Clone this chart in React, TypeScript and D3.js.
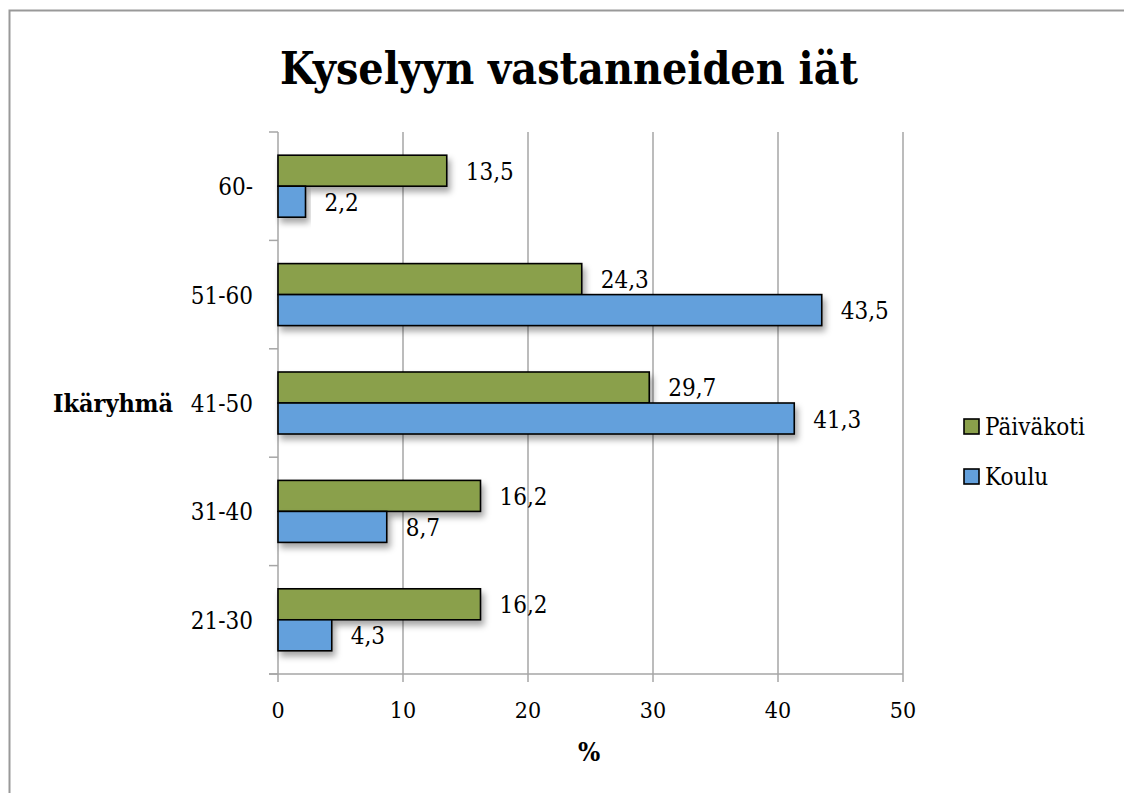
import React from "react";
import * as d3 from "d3";

const categories = ["60-", "51-60", "41-50", "31-40", "21-30"];
const seriesNames = ["Päiväkoti", "Koulu"];
const paivakoti = [13.5, 24.3, 29.7, 16.2, 16.2];
const koulu = [2.2, 43.5, 41.3, 8.7, 4.3];
const xTicks = [0, 10, 20, 30, 40, 50];
const colors = ["#8aa04b", "#63a0dc"];

const W = 1124;
const H = 793;
const left = 278;
const right = 903;
const top = 132;
const bottom = 674;
const FONT = "'DejaVu Serif Condensed', 'DejaVu Serif', serif";
const STRETCH = "condensed";

export default function App() {
  const x = d3.scaleLinear().domain([0, 50]).range([left, right]);
  const y = d3
    .scaleBand<string>()
    .domain(categories)
    .range([top, bottom])
    .paddingInner(0.428)
    .paddingOuter(0.214);
  const inner = d3
    .scaleBand<string>()
    .domain(seriesNames)
    .range([0, y.bandwidth()])
    .padding(0);
  const values = [paivakoti, koulu];
  const step = y.step();
  const boundaries = d3.range(categories.length + 1).map((i) => top + i * step);
  const fmt = (v: number) => v.toFixed(1).replace(".", ",");
  const textStyle = { fontStretch: STRETCH } as React.CSSProperties;

  return (
    <svg
      width={W}
      height={H}
      style={{ position: "absolute", left: 0, top: 0, background: "#fff" }}
    >
      <defs>
        <filter id="shadow" x="-10%" y="-30%" width="130%" height="190%">
          <feDropShadow dx="3" dy="5" stdDeviation="3" floodColor="#000" floodOpacity="0.35" />
        </filter>
      </defs>
      <rect x={0} y={0} width={W} height={H} fill="#fff" />
      {/* outer border */}
      <path d={`M9.5,${H + 5} V10.5 H${W + 5}`} fill="none" stroke="#999" strokeWidth={2} />

      <text
        x={(280 + 858) / 2}
        y={84}
        textAnchor="middle"
        fontFamily={FONT}
        fontWeight="bold"
        fontSize={44}
        textLength={578}
        lengthAdjust="spacingAndGlyphs"
        style={textStyle}
        fill="#000"
      >
        Kyselyyn vastanneiden iät
      </text>

      {/* gridlines */}
      {xTicks.map((t) => (
        <line
          key={"g" + t}
          x1={x(t)}
          x2={x(t)}
          y1={top}
          y2={t === 0 ? bottom : bottom + 8}
          stroke="#a6a6a6"
          strokeWidth={1.5}
        />
      ))}
      {/* y axis ticks */}
      {boundaries.map((b, i) => (
        <line key={"yt" + i} x1={left - 9} x2={left} y1={b} y2={b} stroke="#a6a6a6" strokeWidth={1.5} />
      ))}
      {/* x axis */}
      <line x1={left - 9} x2={right} y1={bottom} y2={bottom} stroke="#a6a6a6" strokeWidth={1.5} />
      <line x1={left} x2={left} y1={bottom} y2={bottom + 8} stroke="#a6a6a6" strokeWidth={1.5} />

      {/* bars */}
      {categories.map((c, ci) => (
        <g key={c}>
          {seriesNames.map((s, si) => {
            const v = values[si][ci];
            const by = (y(c) as number) + (inner(s) as number);
            return (
              <rect
                key={s}
                x={x(0)}
                y={by}
                width={x(v) - x(0)}
                height={inner.bandwidth()}
                fill={colors[si]}
                stroke="#000"
                strokeWidth={1.6}
                filter="url(#shadow)"
              />
            );
          })}
        </g>
      ))}
      {/* data labels */}
      {categories.map((c, ci) =>
        seriesNames.map((s, si) => {
          const v = values[si][ci];
          const cy = (y(c) as number) + (inner(s) as number) + inner.bandwidth() / 2;
          return (
            <text
              key={c + s}
              x={x(v) + 19}
              y={cy + 9}
              fontFamily={FONT}
              fontSize={24}
              style={textStyle}
              fill="#000"
            >
              {fmt(v)}
            </text>
          );
        })
      )}

      {/* category labels */}
      {categories.map((c) => (
        <text
          key={"c" + c}
          x={253}
          y={(y(c) as number) + y.bandwidth() / 2 + 9}
          textAnchor="end"
          fontFamily={FONT}
          fontSize={24}
          style={textStyle}
          fill="#000"
        >
          {c}
        </text>
      ))}
      <text
        x={53}
        y={(y("41-50") as number) + y.bandwidth() / 2 + 9}
        fontFamily={FONT}
        fontWeight="bold"
        fontSize={24}
        textLength={120}
        lengthAdjust="spacingAndGlyphs"
        style={textStyle}
        fill="#000"
      >
        Ikäryhmä
      </text>

      {/* x tick labels */}
      {xTicks.map((t) => (
        <text
          key={"xl" + t}
          x={x(t)}
          y={718}
          textAnchor="middle"
          fontFamily={FONT}
          fontSize={23}
          style={textStyle}
          fill="#000"
        >
          {t}
        </text>
      ))}
      <text
        x={589}
        y={761}
        textAnchor="middle"
        fontFamily={FONT}
        fontWeight="bold"
        fontSize={26}
        style={textStyle}
        fill="#000"
      >
        %
      </text>

      {/* legend */}
      {seriesNames.map((s, i) => (
        <g key={"lg" + s} transform={`translate(964, ${419 + i * 50})`}>
          <rect x={0} y={0} width={15} height={15} fill={colors[i]} stroke="#000" strokeWidth={1.6} />
          <text x={21} y={16} fontFamily={FONT} fontSize={24} style={textStyle} fill="#000">
            {s}
          </text>
        </g>
      ))}
    </svg>
  );
}
